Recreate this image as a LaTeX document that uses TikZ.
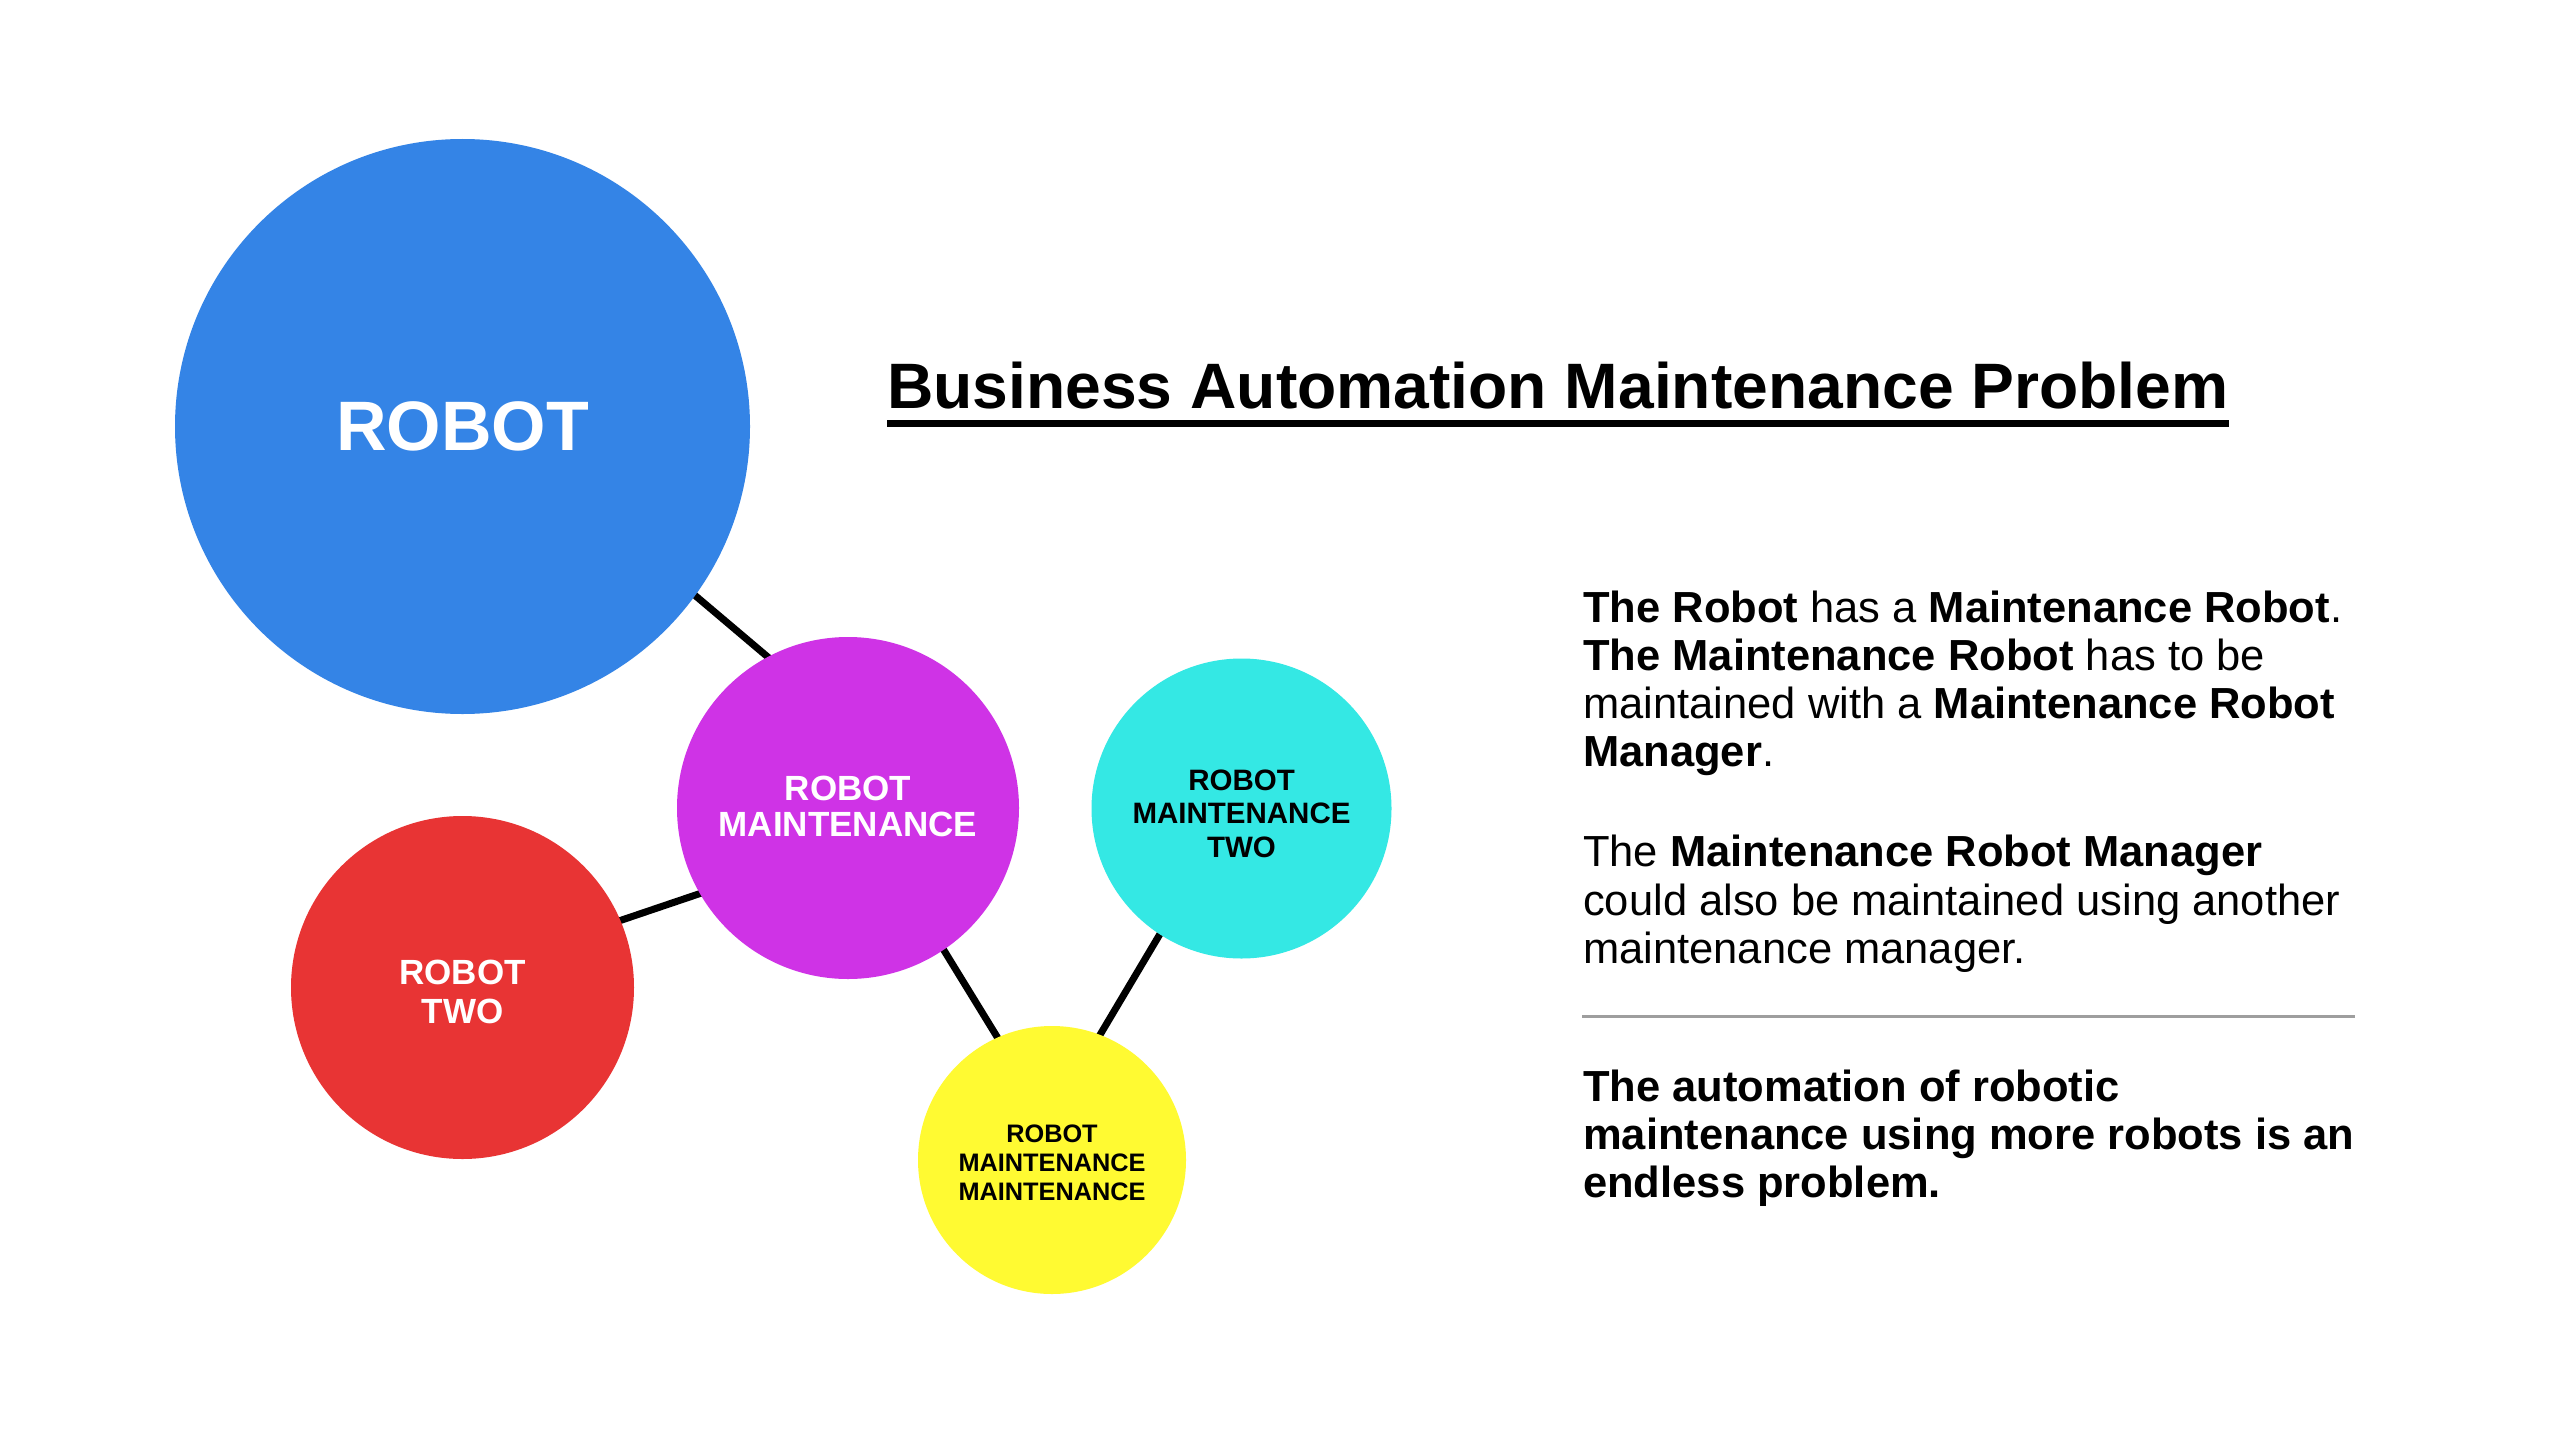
\documentclass[tikz,border=0pt]{standalone}
\usepackage{fontspec}
\setmainfont{Liberation Sans}
\usetikzlibrary{backgrounds}
\definecolor{cblue}{RGB}{52,132,230}
\definecolor{cmag}{RGB}{207,51,230}
\definecolor{cred}{RGB}{232,52,52}
\definecolor{ccyan}{RGB}{52,232,228}
\definecolor{cyel}{RGB}{255,250,50}
\definecolor{rulegray}{RGB}{158,158,158}
\begin{document}
\begin{tikzpicture}[x=1pt,y=-1pt,
  bubble/.style={circle,inner sep=0pt,draw=none},
  btext/.style={inner sep=0pt,align=center},
  link/.style={line width=7pt,black,shorten <=-6pt,shorten >=-6pt},
  para/.style={anchor=base west,inner sep=0pt,font=\fontsize{43.5}{48}\selectfont}]
\useasboundingbox (0,0) rectangle (2550,1434);

% bubbles
\node[bubble,fill=cblue,minimum size=575pt] (robot) at (462.5,426.5) {};
\node[bubble,fill=cmag,minimum size=342pt] (rm) at (848,808) {};
\node[bubble,fill=cred,minimum size=343pt] (rt) at (462.5,987.5) {};
\node[bubble,fill=ccyan,minimum size=300pt] (rmt) at (1241.5,808.5) {};
\node[bubble,fill=cyel,minimum size=268pt] (rmm) at (1052,1160) {};

% bubble labels
\node[btext,text=white,font=\bfseries\fontsize{70}{80}\selectfont] (robotT) at (robot.center) {ROBOT};
\node[btext,text=white,font=\bfseries\fontsize{35}{36}\selectfont] (rmT) at ([yshift=1.5pt]rm.center) {ROBOT\\MAINTENANCE};
\node[btext,text=white,font=\bfseries\fontsize{35}{38.3}\selectfont] (rtT) at ([yshift=-4.5pt]rt.center) {ROBOT\\TWO};
\node[btext,text=black,font=\bfseries\fontsize{29.5}{33.5}\selectfont] (rmtT) at ([yshift=-5pt]rmt.center) {ROBOT\\MAINTENANCE\\TWO};
\node[btext,text=black,font=\bfseries\fontsize{25.3}{29}\selectfont] (rmmT) at ([yshift=-3pt]rmm.center) {ROBOT\\MAINTENANCE\\MAINTENANCE};

% connectors
\begin{scope}[on background layer]
\fill[white] (0,0) rectangle (2550,1434);
\draw[link] (robot.-36.3) -- (rm.118.8);
\draw[link] (rm.210) -- (rt.23.8);
\draw[link] (rm.-56.9) -- (rmm.114.2);
\draw[link] (rmm.69) -- (rmt.237.4);
\end{scope}

% title
\node[anchor=base west,inner sep=0pt,font=\bfseries\fontsize{64.2}{70}\selectfont] (title) at (887,408) {Business Automation Maintenance Problem};
\draw[line width=7pt] ([yshift=-15.5pt]title.base west) -- ([yshift=-15.5pt]title.base east);

% text
\node[para] (p1) at (1583,622.7) {\textbf{The Robot} has a \textbf{Maintenance Robot}.};
\node[para] (p2) at (1583,670.7) {\textbf{The Maintenance Robot} has to be};
\node[para] (p3) at (1583,718.7) {maintained with a \textbf{Maintenance Robot}};
\node[para] (p4) at (1583,766.7) {\textbf{Manager}.};
\node[para] (p5) at (1583,866.7) {The \textbf{Maintenance Robot Manager}};
\node[para] (p6) at (1583,915) {could also be maintained using another};
\node[para] (p7) at (1583,963.3) {maintenance manager.};
\coordinate (ruleL) at (1582,1016.5);
\coordinate (ruleR) at (2355,1016.5);
\draw[rulegray,line width=3pt] (ruleL) -- (ruleR);
\node[para,font=\bfseries\fontsize{43.5}{48}\selectfont] (p8) at (1583,1101.7) {The automation of robotic};
\node[para,font=\bfseries\fontsize{43.5}{48}\selectfont] (p9) at (1583,1149.7) {maintenance using more robots is an};
\node[para,font=\bfseries\fontsize{43.5}{48}\selectfont] (p10) at (1583,1197.7) {endless problem.};
\end{tikzpicture}
\end{document}
